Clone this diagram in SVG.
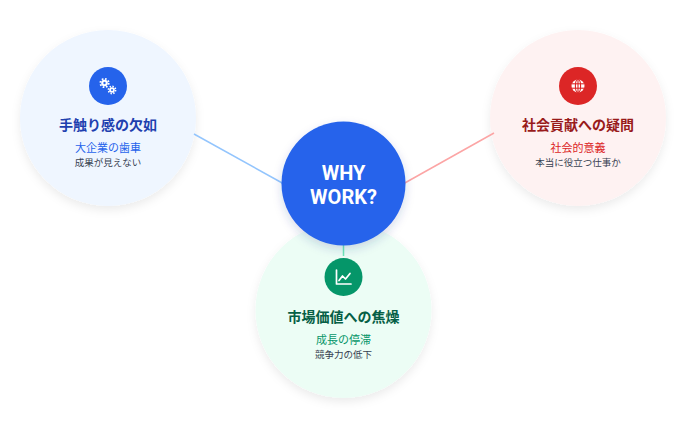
<svg xmlns="http://www.w3.org/2000/svg" width="698" height="423" viewBox="0 0 698 423">
<defs>
<filter id="sh" x="-30%" y="-30%" width="160%" height="160%">
<feDropShadow dx="0" dy="4" stdDeviation="5" flood-color="#000" flood-opacity="0.08"/>
</filter>
<filter id="sh2" x="-30%" y="-30%" width="160%" height="160%">
<feDropShadow dx="0" dy="4" stdDeviation="5" flood-color="#1e3a8a" flood-opacity="0.18"/>
</filter>
</defs>
<style>
text{font-family:"Noto Sans CJK JP","Noto Sans",sans-serif;text-anchor:middle}
.t{font-size:14px;font-weight:700}
.s{font-size:11px;font-weight:400}
.d{font-size:9.5px;fill:#374151}
.w{font-family:Roboto,"Noto Sans",sans-serif;font-size:20px;font-weight:700;fill:#fff}
.ic{fill:none;stroke:#fff;stroke-linecap:round;stroke-linejoin:round}
</style>
<rect width="698" height="423" fill="#fff"/>
<g id="node-left">
<circle cx="108" cy="118" r="88" fill="#eff6ff" filter="url(#sh)"/>
<circle cx="108" cy="86" r="19" fill="#2563eb"/>
<circle cx="104.5" cy="83" r="3.3" fill="#fff"/>
<circle cx="104.5" cy="83" r="4.2" fill="none" stroke="#fff" stroke-width="1.8" stroke-dasharray="1.65 1.65"/>
<circle cx="104.5" cy="83" r="1.2" fill="#2563eb"/>
<circle cx="112" cy="90" r="2.8" fill="#fff"/>
<circle cx="112" cy="90" r="3.6" fill="none" stroke="#fff" stroke-width="1.6" stroke-dasharray="1.41 1.41"/>
<circle cx="112" cy="90" r="1" fill="#2563eb"/>
<text x="108" y="130" class="t" fill="#1e40af">手触り感の欠如</text>
<text x="108" y="152" class="s" fill="#2563eb">大企業の歯車</text>
<text x="108" y="165.5" class="d">成果が見えない</text>
</g>
<g id="node-right">
<circle cx="578" cy="118" r="88" fill="#fef2f2" filter="url(#sh)"/>
<circle cx="578" cy="86" r="19" fill="#dc2626"/>
<circle cx="578" cy="86" r="6.5" fill="#fff"/>
<g fill="none" stroke="#dc2626" stroke-width="1.1">
<ellipse cx="578" cy="86" rx="2.6" ry="6.5"/>
<line x1="571.5" y1="83.8" x2="584.5" y2="83.8"/>
<line x1="571.5" y1="88.2" x2="584.5" y2="88.2"/>
<line x1="578" y1="79.5" x2="578" y2="92.5"/>
</g>
<text x="578" y="130" class="t" fill="#991b1b">社会貢献への疑問</text>
<text x="578" y="152" class="s" fill="#dc2626">社会的意義</text>
<text x="578" y="165.5" class="d">本当に役立つ仕事か</text>
</g>
<g id="node-bottom">
<circle cx="343.5" cy="310" r="88" fill="#ecfdf5" filter="url(#sh)"/>
<circle cx="343.5" cy="277" r="19" fill="#059669"/>
<path class="ic" stroke-width="1.7" d="M336.5 270 V284 H351"/>
<path class="ic" stroke-width="1.7" d="M339 280.5 L342.5 276 L345.5 279 L350 273.5"/>
<text x="343.5" y="322" class="t" fill="#065f46">市場価値への焦燥</text>
<text x="343.5" y="344" class="s" fill="#059669">成長の停滞</text>
<text x="343.5" y="357.5" class="d">競争力の低下</text>
</g>
<g id="connectors" stroke-width="1.5" fill="none">
<line x1="194" y1="134" x2="284" y2="184" stroke="#93c5fd"/>
<line x1="403" y1="184" x2="494" y2="133" stroke="#fca5a5"/>
<line x1="343.5" y1="244" x2="343.5" y2="256" stroke="#6ee7b7"/>
</g>
<g id="node-center">
<circle cx="343.5" cy="183.5" r="62" fill="#2563eb" filter="url(#sh2)"/>
<text x="343.5" y="180" class="w">WHY</text>
<text x="343.5" y="203.5" class="w">WORK?</text>
</g>
</svg>
